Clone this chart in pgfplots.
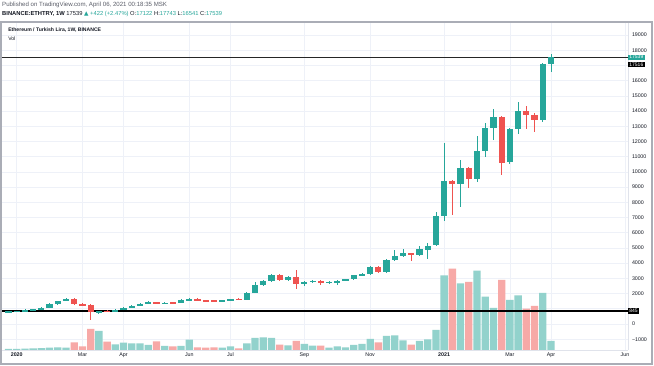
\documentclass[border=0pt]{standalone}
\usepackage{pgfplots}
\usepackage{pgfplotstable}
\pgfplotsset{compat=1.18}
\usepackage{fontspec}
\setmainfont{Liberation Sans}
\newfontfamily\dejavu{DejaVu Sans}
\definecolor{tvup}{RGB}{38,166,154}
\definecolor{tvdn}{RGB}{239,83,80}
\definecolor{tvvup}{RGB}{146,210,204}
\definecolor{tvvdn}{RGB}{247,169,167}
\definecolor{tvgrid}{RGB}{238,241,248}
\definecolor{tvtext}{RGB}{19,23,34}
\definecolor{tvgray}{RGB}{90,93,104}
\definecolor{tvborder}{RGB}{224,227,235}
\definecolor{tvframe}{RGB}{170,173,182}

% weekly candles, i = week index (0 = 30 Dec 2019), v = volume (relative units)
\pgfplotstableread{
i o h l c v
0 790 860 760 830 1.0
1 800 880 780 850 1.2
2 800 960 780 940 1.3
3 900 990 860 960 1.5
4 930 1090 900 1070 1.8
5 1080 1350 1060 1335 2.3
6 1300 1530 1280 1510 2.5
7 1510 1680 1480 1650 2.3
11 770 880 650 840 19
13 800 980 770 940 5.7
14 940 1090 900 1050 7.3
15 1050 1230 1020 1200 6.7
16 1220 1380 1180 1335 6.7
17 1360 1500 1330 1445 5
19 1320 1430 1290 1400 4
21 1370 1620 1350 1578 4
22 1560 1700 1530 1644 10.3
26 1520 1570 1500 1545 2.3
27 1520 1670 1500 1640 3.7
29 1580 2090 1560 2060 6.7
30 2060 2780 2040 2545 12
31 2560 2870 2520 2807 12.7
32 2810 3300 2790 3222 12
34 2880 3180 2850 3112 4.7
36 2630 2820 2500 2760 6
37 2740 2900 2700 2850 4.3
39 2690 2820 2650 2770 2.3
40 2720 2900 2560 2850 3.7
41 2870 2970 2840 2940 2.7
42 2940 3240 2900 3200 5
43 3180 3330 3140 3288 6
44 3288 3820 3200 3770 11
46 3400 4250 3380 4208 14
47 4208 4866 4150 4493 14.7
48 4470 4930 4380 4648 9.7
50 4536 5150 4500 4910 9
51 4866 5300 4270 5150 10.7
52 5195 7385 5100 7120 20
53 7120 11920 6750 9400 74.5
55 9205 10780 7713 10237 66.7
57 9512 12360 9310 11395 79.3
58 11375 13240 11000 12887 53.3
59 12867 14140 12098 13630 42
61 10632 12900 10500 12821 50
62 12800 14617 12492 14025 54.7
65 13413 17170 13300 17122 57
66 17122 17743 16541 17539 9
}\upcandles

\pgfplotstableread{
i o h l c v
8 1660 1700 1280 1315 7.7
9 1340 1400 1150 1180 3.7
10 1230 1300 250 770 21
12 850 900 780 800 8.3
18 1440 1470 1290 1335 8.7
20 1420 1450 1340 1370 3.7
23 1644 1680 1530 1560 2.7
24 1570 1600 1470 1500 2.3
25 1560 1590 1490 1520 2.7
28 1644 1680 1560 1580 1.7
33 3222 3280 2800 2870 5.3
35 3112 3550 2280 2610 9
38 2830 2900 2580 2690 4.3
45 3770 3800 3380 3420 7.7
49 4648 4700 4140 4560 5.3
54 9380 9450 7170 9205 81.3
56 10257 10300 8920 9512 68
60 13630 13700 9797 10566 70
63 14025 14300 12821 13762 41.3
64 13762 13850 12600 13390 44
}\dncandles

\pgfplotsset{
  tvbase/.style={at={(1pt,16pt)}, anchor=south west, scale only axis,
    width=627pt, height=327pt, xmin=-0.91, xmax=75.37},
  wick/.style={draw=none, mark=none, forget plot,
    error bars/.cd, y dir=both, y explicit, error mark=none,
    error bar style={draw=#1, line width=0.8pt}},
  body/.style={draw=none, mark=none, forget plot,
    error bars/.cd, y dir=both, y explicit, error mark=none,
    error bar style={draw=#1, line width=6.2pt}},
}

\begin{document}
\begin{tikzpicture}
\useasboundingbox (0,0) rectangle (654pt,366pt);
\fill[white] (0,0) rectangle (654pt,366pt);

% header
\node[anchor=west, inner sep=0, font=\fontsize{6.1}{6.5}\selectfont, text=tvgray] at (2pt,361.5pt)
  {Published on TradingView.com, April 06, 2021 00:18:35 MSK};
\node[anchor=west, inner sep=0, font=\fontsize{5.8}{6.5}\selectfont, text=tvtext] at (2pt,352pt)
  {\textbf{BINANCE:ETHTRY, 1W} 17539 \textcolor{tvup}{{\dejavu ▲} +422 (+2.47\%)} O:\textcolor{tvup}{17122} H:\textcolor{tvup}{17743} L:\textcolor{tvup}{16541} C:\textcolor{tvup}{17539}};

% price scale, grid and time scale
\begin{axis}[tvbase,
  ymin=-1710, ymax=19790,
  scaled ticks=false,
  axis x line*=bottom, axis y line*=right,
  axis line style={draw=tvborder, line width=0.6pt, -},
  tick style={draw=none},
  xtick={1,9,14,22,27,36,44,53,61,66,75},
  xticklabels={\textbf{2020},Mar,Apr,Jun,Jul,Sep,Nov,\textbf{2021},Mar,Apr,Jun},
  ytick={-1000,0,...,19000},
  yticklabels={−1000,0,{},2000,3000,4000,5000,6000,7000,8000,9000,10000,11000,12000,13000,14000,15000,16000,{},18000,19000},
  xmajorgrids, ymajorgrids,
  grid style={draw=tvgrid, line width=0.6pt},
  xticklabel style={font=\fontsize{5.3}{6}\selectfont, text=tvtext, yshift=1pt},
  yticklabel style={font=\fontsize{5.3}{6}\selectfont, text=tvtext, anchor=west, xshift=0.5pt},
]
\addplot[draw=none, forget plot] coordinates {(0,0)};
\end{axis}

% volume pane
\begin{axis}[tvbase, ymin=0, ymax=327, hide axis]
\addplot[ybar, bar width=7.3pt, bar shift=0pt, fill=tvvup, draw=none] table[x=i, y=v] {\upcandles};
\addplot[ybar, bar width=7.3pt, bar shift=0pt, fill=tvvdn, draw=none] table[x=i, y=v] {\dncandles};
\end{axis}

% candles and lines
\begin{axis}[tvbase, ymin=-1710, ymax=19790, hide axis, clip=false]
\addplot[black, line width=2.2pt, forget plot] coordinates {(-0.91,845) (75.37,845)};
\addplot[black!85, line width=1.8pt, forget plot] coordinates {(-0.91,17516) (75.37,17516)};
\addplot[wick=tvup] table[x=i, y expr={(\thisrow{h}+\thisrow{l})/2}, y error expr={(\thisrow{h}-\thisrow{l})/2}] {\upcandles};
\addplot[wick=tvdn] table[x=i, y expr={(\thisrow{h}+\thisrow{l})/2}, y error expr={(\thisrow{h}-\thisrow{l})/2}] {\dncandles};
\addplot[body=tvup] table[x=i, y expr={(\thisrow{o}+\thisrow{c})/2}, y error expr={max(abs(\thisrow{c}-\thisrow{o})/2,30)}] {\upcandles};
\addplot[body=tvdn] table[x=i, y expr={(\thisrow{o}+\thisrow{c})/2}, y error expr={max(abs(\thisrow{c}-\thisrow{o})/2,30)}] {\dncandles};
\node[anchor=west, fill=tvup, text=white, inner xsep=1.2pt, inner ysep=0.9pt, font=\fontsize{5}{5.5}\selectfont] at (axis cs:75.37,17539) {17539};
\node[anchor=west, fill=black, text=white, inner xsep=1.2pt, inner ysep=0.9pt, font=\fontsize{5}{5.5}\selectfont] at ([yshift=-7pt]axis cs:75.37,17516) {17516};
\node[anchor=west, fill=black, text=white, inner xsep=1.2pt, inner ysep=0.9pt, font=\fontsize{5}{5.5}\selectfont] at (axis cs:75.37,845) {845};
\node[anchor=west, inner sep=0, font=\bfseries\fontsize{5.1}{6}\selectfont, text=tvtext] at (axis cs:-0.05,19350) {Ethereum / Turkish Lira, 1W, BINANCE};
\node[anchor=west, inner sep=0, font=\fontsize{5.1}{6}\selectfont, text=tvtext] at (axis cs:-0.05,18750) {Vol};
\end{axis}

% outer frame
\draw[draw=tvframe, line width=1.2pt] (1pt,2pt) rectangle (652pt,344pt);
\end{tikzpicture}
\end{document}
